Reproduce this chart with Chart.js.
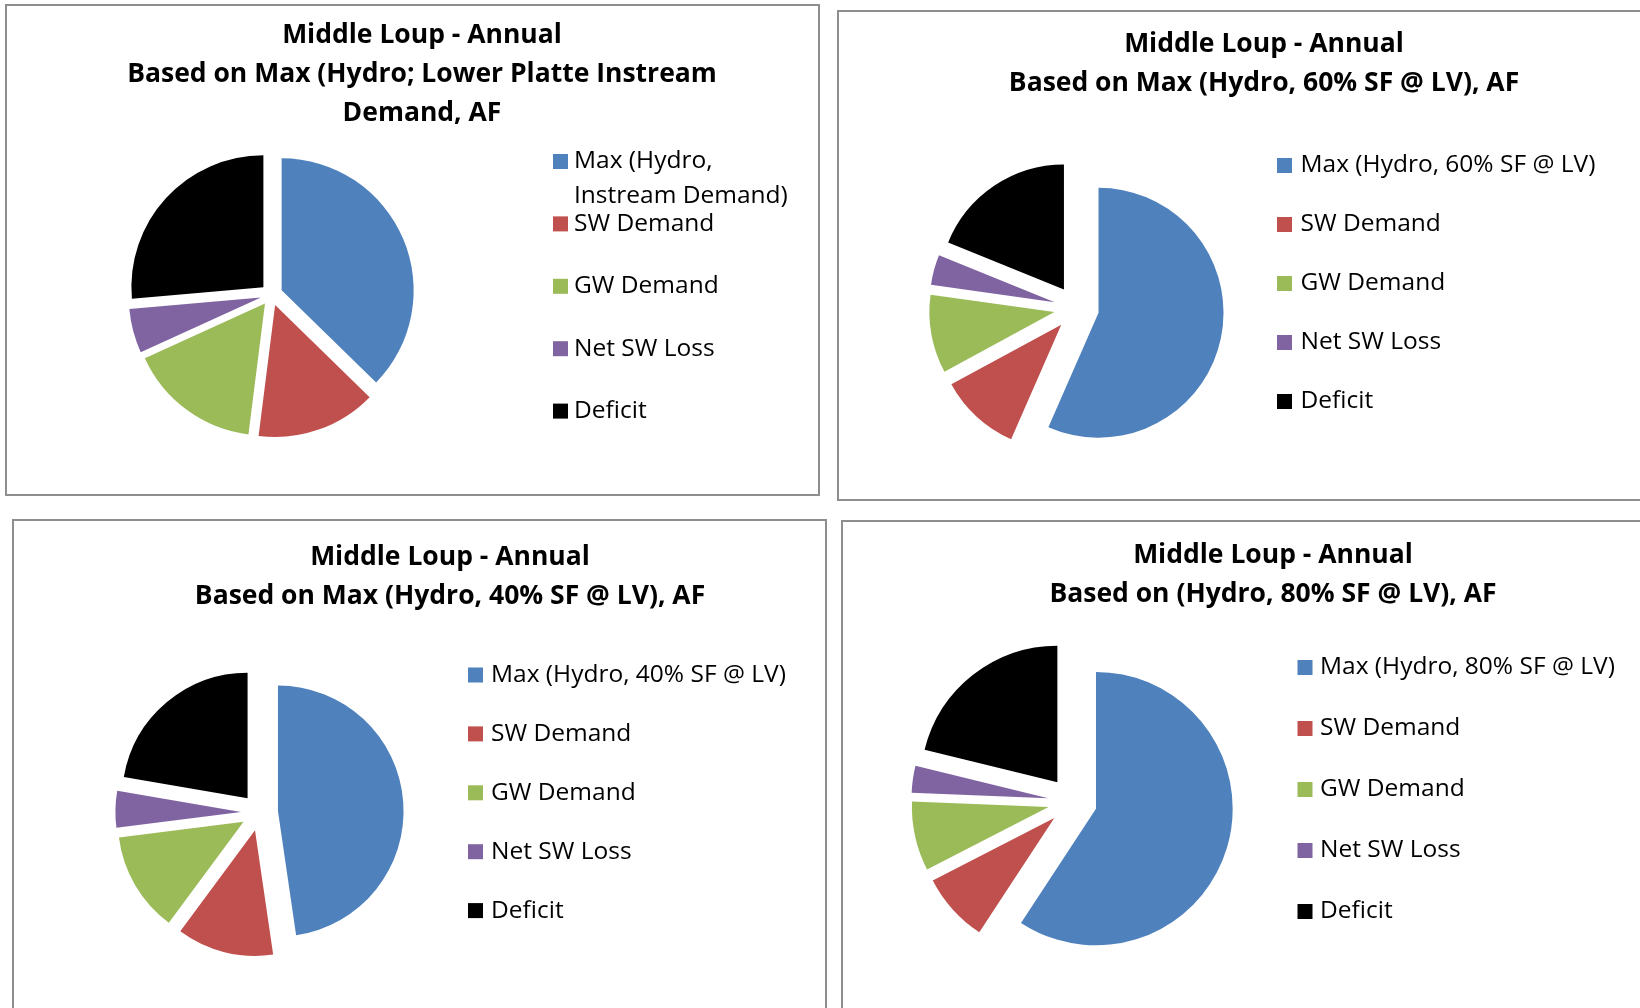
<!DOCTYPE html>
<html>
<head>
<meta charset="utf-8">
<title>Middle Loup - Annual</title>
<script src="https://cdn.jsdelivr.net/npm/chart.js@4.4.1/dist/chart.umd.min.js"></script>
<style>
  html, body { margin: 0; padding: 0; background: #fff; }
  body { position: relative; width: 1640px; height: 1008px; overflow: hidden; }
  .panel { position: absolute; box-sizing: border-box; border: 2px solid #8e8e8e; background: #fff; }
  canvas { position: absolute; }
</style>
</head>
<body>

<div class="panel" style="left:5px;top:4px;width:815px;height:492px"></div>
<div class="panel" style="left:837px;top:10px;width:830px;height:491px"></div>
<div class="panel" style="left:12px;top:519px;width:815px;height:500px"></div>
<div class="panel" style="left:841px;top:520px;width:830px;height:500px"></div>

<canvas id="pie-instream" width="800" height="452" style="left:22px;top:4px"></canvas>
<canvas id="pie-sf60" width="800" height="503" style="left:864px;top:10px"></canvas>
<canvas id="pie-sf40" width="800" height="490" style="left:50px;top:519px"></canvas>
<canvas id="pie-sf80" width="800" height="469" style="left:873px;top:520px"></canvas>

<script>
// --- DATA ---
const TITLE_INSTREAM = ['Middle Loup - Annual', 'Based on Max (Hydro; Lower Platte Instream', 'Demand, AF'];
const TITLE_SF60 = ['Middle Loup - Annual', 'Based on Max (Hydro, 60% SF @ LV), AF'];
const TITLE_SF40 = ['Middle Loup - Annual', 'Based on Max (Hydro, 40% SF @ LV), AF'];
const TITLE_SF80 = ['Middle Loup - Annual', 'Based on (Hydro, 80% SF @ LV), AF'];

const LABELS_INSTREAM = ['Max (Hydro,\nInstream Demand)', 'SW Demand', 'GW Demand', 'Net SW Loss', 'Deficit'];
const LABELS_SF60 = ['Max (Hydro, 60% SF @ LV)', 'SW Demand', 'GW Demand', 'Net SW Loss', 'Deficit'];
const LABELS_SF40 = ['Max (Hydro, 40% SF @ LV)', 'SW Demand', 'GW Demand', 'Net SW Loss', 'Deficit'];
const LABELS_SF80 = ['Max (Hydro, 80% SF @ LV)', 'SW Demand', 'GW Demand', 'Net SW Loss', 'Deficit'];

// share of the annual total, percent
const SHARE_INSTREAM = [37.3, 14.7, 16.2, 5.4, 26.4];
const SHARE_SF60 = [56.4, 10.5, 10.1, 3.9, 18.8];
const SHARE_SF40 = [47.5, 12.4, 12.8, 4.7, 22.2];
const SHARE_SF80 = [59.3, 8.2, 8.2, 3.2, 21.2];

const COLORS = ['#4F81BD', '#C0504D', '#9BBB59', '#8064A2', '#000000'];

const FONT = "'Open Sans', 'Noto Sans', sans-serif";

// --- PLUGINS ---
// legend column at the right; registered as a layout box so the pie is
// centred in what is left of the chart area
const sideLegend = {
    id: 'sideLegend',
    beforeInit(chart, args, opts) {
        const box = {
            position: 'right',
            weight: 100,
            fullSize: false,
            options: {},
            isHorizontal() { return false; },
            update(maxWidth, maxHeight) {
                this.width = opts.width;
                this.height = maxHeight;
            },
            draw() { drawLegend(chart, opts); }
        };
        Chart.layouts.addBox(chart, box);
    }
};

function drawLegend(chart, opts) {
    const ctx = chart.ctx;
    const colors = chart.data.datasets[0].backgroundColor;
    ctx.save();
    ctx.font = `${opts.fontSize}px ${FONT}`;
    ctx.textAlign = 'left';
    ctx.textBaseline = 'middle';
    chart.data.labels.forEach((label, i) => {
        const y = opts.y + i * opts.step;
        ctx.fillStyle = colors[i];
        ctx.fillRect(opts.boxX, y - opts.boxSize / 2, opts.boxSize, opts.boxSize);
        ctx.fillStyle = '#000';
        label.split('\n').forEach((line, j) => {
            ctx.fillText(line, opts.textX, y + j * opts.lineStep);
        });
    });
    ctx.restore();
}

// pulls every slice out from the centre along its bisector
const explode = {
    id: 'explode',
    beforeDatasetDraw(chart, args, opts) {
        const { left, right, top, bottom } = chart.chartArea;
        const cx = (left + right) / 2;
        const cy = (top + bottom) / 2;
        args.meta.data.forEach(arc => {
            const mid = (arc.startAngle + arc.endAngle) / 2;
            arc.x = cx + Math.cos(mid) * opts.distance;
            arc.y = cy + Math.sin(mid) * opts.distance;
        });
    }
};

// --- CHARTS ---
function makePie(canvasId, title, labels, values, layout) {
    const ctx = document.getElementById(canvasId).getContext('2d');
    return new Chart(ctx, {
        type: 'pie',
        data: {
            labels: labels,
            datasets: [{
                data: values,
                backgroundColor: COLORS,
                borderWidth: 0,
                radius: layout.radius
            }]
        },
        options: {
            responsive: false,
            devicePixelRatio: 1,
            animation: false,
            events: [],
            layout: { padding: 0 },
            plugins: {
                legend: { display: false },
                tooltip: { enabled: false },
                title: {
                    display: true,
                    text: title,
                    color: '#000',
                    font: { family: FONT, size: 26.5, weight: 'bold', lineHeight: '39px' },
                    padding: { top: layout.titleTop, bottom: 0 }
                },
                explode: { distance: layout.explode },
                sideLegend: {
                    width: layout.legendWidth,
                    boxX: layout.boxX,
                    textX: layout.textX,
                    y: layout.legendY,
                    step: layout.step,
                    lineStep: 34.4,
                    boxSize: 15,
                    fontSize: 24.5
                }
            }
        },
        plugins: [sideLegend, explode]
    });
}

makePie('pie-instream', TITLE_INSTREAM, LABELS_INSTREAM, SHARE_INSTREAM, {
    radius: 132, explode: 11, titleTop: 12.25,
    legendWidth: 301, boxX: 531, textX: 552, legendY: 157.5, step: 62.4
});
makePie('pie-sf60', TITLE_SF60, LABELS_SF60, SHARE_SF60, {
    radius: 125, explode: 22.5, titleTop: 15.25,
    legendWidth: 375, boxX: 413, textX: 436.5, legendY: 155.5, step: 59
});
makePie('pie-sf40', TITLE_SF40, LABELS_SF40, SHARE_SF40, {
    radius: 125.6, explode: 18.5, titleTop: 18.75,
    legendWidth: 381, boxX: 418, textX: 441, legendY: 156, step: 58.9
});
makePie('pie-sf80', TITLE_SF80, LABELS_SF80, SHARE_SF80, {
    radius: 136.7, explode: 24.5, titleTop: 16.25,
    legendWidth: 401, boxX: 424.5, textX: 447, legendY: 147.5, step: 61
});
</script>
</body>
</html>
